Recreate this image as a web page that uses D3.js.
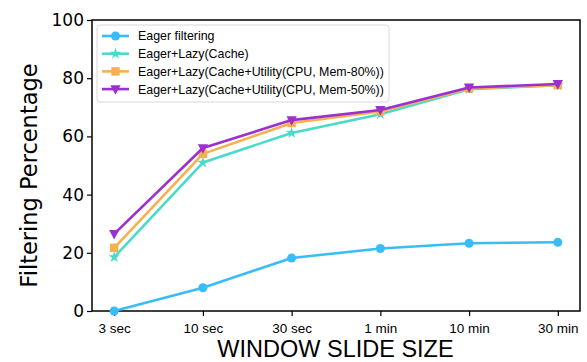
<!DOCTYPE html>
<html>
<head>
<meta charset="utf-8">
<script src="https://cdn.jsdelivr.net/npm/d3@7"></script>
<style>
  html, body { margin: 0; padding: 0; background: #fff; }
  svg { display: block; }
</style>
</head>
<body>
<svg id="chart" width="587" height="362"></svg>
<script>
// Window slide sizes along the x axis
const categories = ["3 sec", "10 sec", "30 sec", "1 min", "10 min", "30 min"];

// Filtering percentage per strategy
const eagerFiltering = [0, 8, 18.2, 21.5, 23.3, 23.6];
const eagerLazyCache = [18.5, 51, 61.2, 67.6, 76.2, 77.6];
const eagerLazyMem80 = [21.7, 54, 64.6, 68.6, 76.5, 77.6];
const eagerLazyMem50 = [26.5, 56, 65.6, 69.1, 76.8, 78];

const seriesNames = [
  "Eager filtering",
  "Eager+Lazy(Cache)",
  "Eager+Lazy(Cache+Utility(CPU, Mem-80%))",
  "Eager+Lazy(Cache+Utility(CPU, Mem-50%))"
];
const yTicks = [0, 20, 40, 60, 80, 100];

const series = [
  { name: seriesNames[0], values: eagerFiltering, color: "#38bdf8", symbol: d3.symbolCircle, size: 64 },
  { name: seriesNames[1], values: eagerLazyCache, color: "#48dcc8", symbol: d3.symbolStar, size: 40 },
  { name: seriesNames[2], values: eagerLazyMem80, color: "#f7b04f", symbol: d3.symbolSquare, size: 72 },
  { name: seriesNames[3], values: eagerLazyMem50, color: "#9b30cf", symbol: "tri", size: 80 }
];

const svg = d3.select("#chart");
const plot = { left: 92, right: 580, top: 20, bottom: 311 };

const x = d3.scalePoint().domain(categories).range([plot.left, plot.right]).padding(0.25);
const y = d3.scaleLinear().domain([0, 100]).range([plot.bottom, plot.top]);

// Downward-pointing triangle marker
function triangleDown(size) {
  const s = Math.sqrt(size) * 1.15;
  return `M${-s / 2},${-s * 0.38}L${s / 2},${-s * 0.38}L0,${s * 0.55}Z`;
}
function markerPath(sr) {
  if (sr.symbol === "tri") return triangleDown(sr.size);
  return d3.symbol().type(sr.symbol).size(sr.size)();
}

// Axes
const xAxis = svg.append("g")
  .attr("transform", `translate(0,${plot.bottom})`)
  .call(d3.axisBottom(x).tickSize(5).tickSizeOuter(0));
xAxis.select(".domain").remove();
xAxis.selectAll(".tick line").attr("stroke", "#000").attr("stroke-width", 1.2);
xAxis.selectAll(".tick text")
  .attr("font-family", "Liberation Sans, Arial, sans-serif")
  .attr("font-size", 13.5).attr("fill", "#000").attr("dy", "1.05em");

const yAxis = svg.append("g")
  .attr("transform", `translate(${plot.left},0)`)
  .call(d3.axisLeft(y).tickValues(yTicks).tickSize(5).tickSizeOuter(0));
yAxis.select(".domain").remove();
yAxis.selectAll(".tick line").attr("stroke", "#000").attr("stroke-width", 1.2);
yAxis.selectAll(".tick text")
  .attr("font-family", "DejaVu Sans, sans-serif")
  .attr("font-size", 17).attr("fill", "#000").attr("x", -8);

// Plot frame
svg.append("rect")
  .attr("x", plot.left).attr("y", plot.top)
  .attr("width", plot.right - plot.left).attr("height", plot.bottom - plot.top)
  .attr("fill", "none").attr("stroke", "#000").attr("stroke-width", 1.5);

// Lines and markers
const line = d3.line().x((d, i) => x(categories[i])).y(d => y(d));
series.forEach(sr => {
  const g = svg.append("g");
  g.append("path").datum(sr.values)
    .attr("d", line).attr("fill", "none")
    .attr("stroke", sr.color).attr("stroke-width", 2.6).attr("stroke-linejoin", "round");
  g.selectAll("path.m").data(sr.values).enter().append("path")
    .attr("class", "m")
    .attr("d", markerPath(sr))
    .attr("transform", (d, i) => `translate(${x(categories[i])},${y(d)})`)
    .attr("fill", sr.color);
});

// Legend
const legend = svg.append("g");
legend.append("rect")
  .attr("x", 97).attr("y", 25).attr("width", 292).attr("height", 77)
  .attr("rx", 3).attr("fill", "#fff").attr("fill-opacity", 0.85)
  .attr("stroke", "#d8d8d8").attr("stroke-width", 1);
series.forEach((sr, i) => {
  const cy = 36 + i * 17.7;
  legend.append("line")
    .attr("x1", 102).attr("x2", 129).attr("y1", cy).attr("y2", cy)
    .attr("stroke", sr.color).attr("stroke-width", 2.6);
  legend.append("path")
    .attr("d", markerPath(sr))
    .attr("transform", `translate(115.5,${cy})`)
    .attr("fill", sr.color);
  legend.append("text")
    .attr("x", 138).attr("y", cy).attr("dy", "0.36em")
    .attr("font-family", "Liberation Sans, Arial, sans-serif")
    .attr("font-size", 12.4).attr("fill", "#000")
    .text(sr.name);
});

// Axis titles
svg.append("text")
  .attr("x", (plot.left + plot.right) / 2 - 0.5).attr("y", 357)
  .attr("text-anchor", "middle")
  .attr("font-family", "Liberation Sans, Arial, sans-serif")
  .attr("font-size", 23.5).attr("fill", "#000")
  .text("WINDOW SLIDE SIZE");

svg.append("text")
  .attr("transform", `translate(37,${(plot.top + plot.bottom) / 2 + 10}) rotate(-90)`)
  .attr("text-anchor", "middle")
  .attr("font-family", "DejaVu Sans, sans-serif")
  .attr("font-size", 22.5).attr("fill", "#000")
  .text("Filtering Percentage");
</script>
</body>
</html>
